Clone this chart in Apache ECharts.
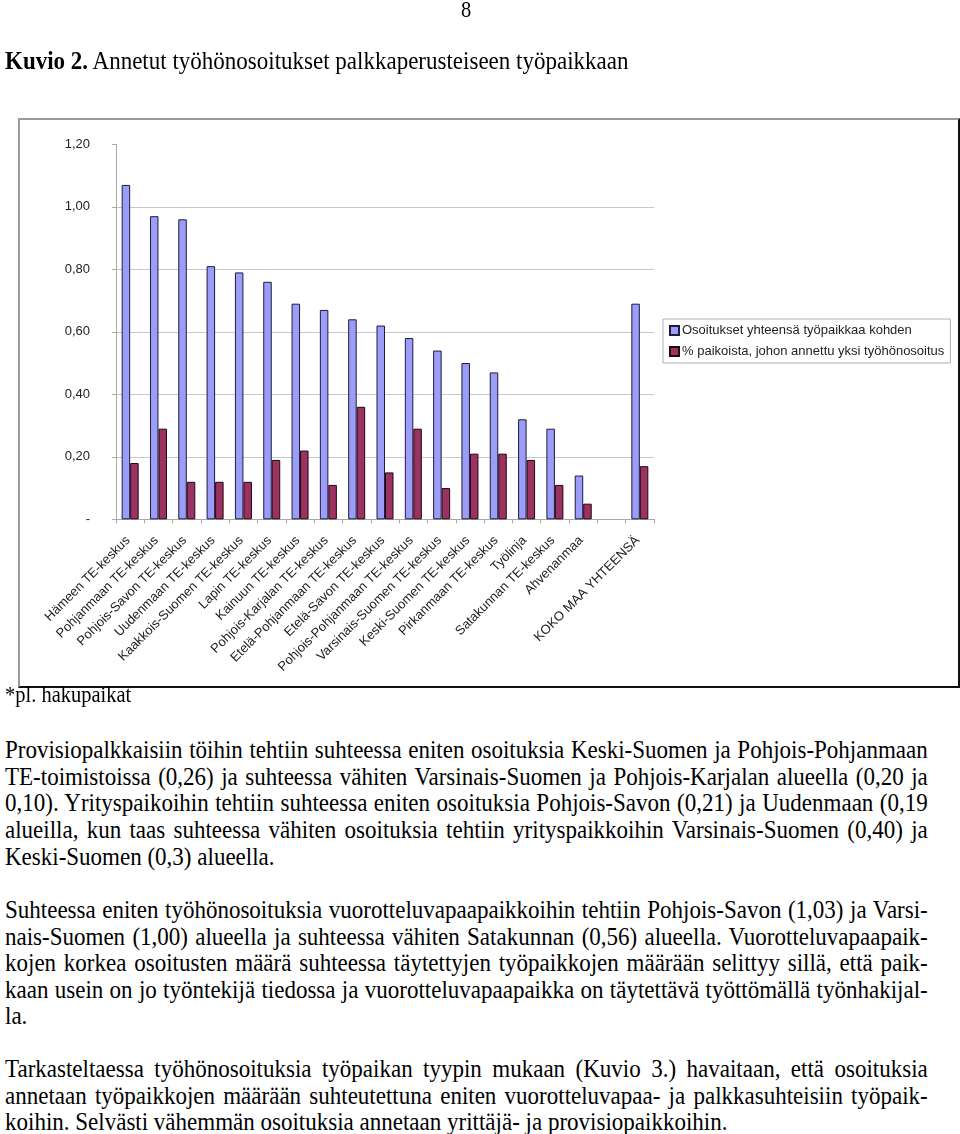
<!DOCTYPE html>
<html>
<head>
<meta charset="utf-8">
<script src="https://cdn.jsdelivr.net/npm/echarts@6/dist/echarts.min.js"></script>
<style>
  html, body { margin: 0; padding: 0; background: #fff; }
  body { width: 960px; height: 1134px; position: relative; overflow: hidden; font-family: "Liberation Serif", "Times New Roman", serif; color: #000; }
  #frame { position: absolute; left: 18px; top: 118px; width: 938px; height: 566px;
           border-top: 2px solid #9a9a9a; border-left: 2px solid #9a9a9a;
           border-right: 2px solid #111; border-bottom: 2px solid #111; }
  #chart { position: absolute; left: 0; top: 0; width: 960px; height: 700px; }
  .ln { position: absolute; left: 5px; height: 26px; line-height: 26px; font-size: 25px; white-space: nowrap;
        transform: scaleX(0.92); transform-origin: 0 50%; }
  .j { width: 1003px; text-align: justify; text-align-last: justify; }
  .small { font-size: 22.5px; transform: scaleX(0.91); }
</style>
</head>
<body>
<div id="frame"></div>
<div id="chart"></div>
<div id="text"></div>
<script>
// ---- data ----
var categories = [
  "Hämeen TE-keskus", "Pohjanmaan TE-keskus", "Pohjois-Savon TE-keskus", "Uudenmaan TE-keskus",
  "Kaakkois-Suomen TE-keskus", "Lapin TE-keskus", "Kainuun TE-keskus", "Pohjois-Karjalan TE-keskus",
  "Etelä-Pohjanmaan TE-keskus", "Etelä-Savon TE-keskus", "Pohjois-Pohjanmaan TE-keskus",
  "Varsinais-Suomen TE-keskus", "Keski-Suomen TE-keskus", "Pirkanmaan TE-keskus", "Työlinja",
  "Satakunnan TE-keskus", "Ahvenanmaa", "", "KOKO MAA YHTEENSÄ"
];
var seriesNames = ["Osoitukset yhteensä työpaikkaa kohden", "% paikoista, johon annettu yksi työhönosoitus"];
var osoituksetYhteensa = [1.07, 0.97, 0.96, 0.81, 0.79, 0.76, 0.69, 0.67, 0.64, 0.62, 0.58, 0.54, 0.50, 0.47, 0.32, 0.29, 0.14, null, 0.69];
var yksiOsoitus        = [0.18, 0.29, 0.12, 0.12, 0.12, 0.19, 0.22, 0.11, 0.36, 0.15, 0.29, 0.10, 0.21, 0.21, 0.19, 0.11, 0.05, null, 0.17];
var yTickLabels = { 0: "-", 0.2: "0,20", 0.4: "0,40", 0.6: "0,60", 0.8: "0,80", 1: "1,00", 1.2: "1,20" };

var chart = echarts.init(document.getElementById('chart'), null, { renderer: 'canvas' });
var axisFont = { fontFamily: "Liberation Sans, Arial, sans-serif", fontSize: 13, color: "#222" };
chart.setOption({
  backgroundColor: 'transparent',
  animation: false,
  grid: { left: 116, top: 144.3, width: 538, height: 375, containLabel: false },
  legend: {
    orient: 'vertical', left: 663, top: 319,
    data: seriesNames,
    backgroundColor: '#fff', borderColor: '#b0b0b0', borderWidth: 1,
    padding: [5, 6, 5, 6], itemWidth: 9, itemHeight: 9, itemGap: 8,
    icon: 'rect',
    textStyle: Object.assign({}, axisFont, { padding: [0, 0, 0, -2] })
  },
  xAxis: {
    type: 'category', data: categories, boundaryGap: true,
    axisLine: { lineStyle: { color: '#a8a8a8', width: 1 } },
    axisTick: { show: true, length: 4, lineStyle: { color: '#a8a8a8' } },
    axisLabel: Object.assign({}, axisFont, { rotate: 45, interval: 0, margin: 17, padding: [0, 3, 0, 0] })
  },
  yAxis: {
    type: 'value', min: 0, max: 1.2, interval: 0.2,
    axisLine: { show: true, lineStyle: { color: '#a8a8a8', width: 1 } },
    axisTick: { show: true, length: 4, lineStyle: { color: '#a8a8a8' } },
    splitLine: { show: true, lineStyle: { color: ['#c8c8c8', '#c8c8c8', '#c8c8c8', '#c8c8c8', '#c8c8c8', '#c8c8c8', 'rgba(0,0,0,0)'], width: 1 } },
    axisLabel: Object.assign({}, axisFont, { margin: 26, formatter: function (v) { var k = Math.round(v * 10) / 10; return yTickLabels[k] !== undefined ? yTickLabels[k] : ''; } })
  },
  series: [
    { name: seriesNames[0], type: 'bar', data: osoituksetYhteensa, barWidth: 8.5, barGap: '0%',
      itemStyle: { color: '#9c9cf9', borderColor: '#1c1c40', borderWidth: 1 } },
    { name: seriesNames[1], type: 'bar', data: yksiOsoitus, barWidth: 8.5, barGap: '0%',
      itemStyle: { color: '#9a3262', borderColor: '#24060f', borderWidth: 1 } }
  ]
});

// ---- page text ----
var lines = [
  // [centerY, html, class, extraStyle]
  [10, "8", "small", "left:461px;"],
  [61, "<b>Kuvio 2.</b> Annetut työhönosoitukset palkkaperusteiseen työpaikkaan", "", ""],
  [695, "*pl. hakupaikat", "small", ""],
  [750, "Provisiopalkkaisiin töihin tehtiin suhteessa eniten osoituksia Keski-Suomen ja Pohjois-Pohjanmaan", "j", ""],
  [777, "TE-toimistoissa (0,26) ja suhteessa vähiten Varsinais-Suomen ja Pohjois-Karjalan alueella (0,20 ja", "j", ""],
  [803, "0,10). Yrityspaikoihin tehtiin suhteessa eniten osoituksia Pohjois-Savon (0,21) ja Uudenmaan (0,19", "j", ""],
  [830, "alueilla, kun taas suhteessa vähiten osoituksia tehtiin yrityspaikkoihin Varsinais-Suomen (0,40) ja", "j", ""],
  [857, "Keski-Suomen (0,3) alueella.", "", ""],
  [910, "Suhteessa eniten työhönosoituksia vuorotteluvapaapaikkoihin tehtiin Pohjois-Savon (1,03) ja Varsi-", "j", ""],
  [937, "nais-Suomen (1,00) alueella ja suhteessa vähiten Satakunnan (0,56) alueella. Vuorotteluvapaapaik-", "j", ""],
  [963, "kojen korkea osoitusten määrä suhteessa täytettyjen työpaikkojen määrään selittyy sillä, että paik-", "j", ""],
  [990, "kaan usein on jo työntekijä tiedossa ja vuorotteluvapaapaikka on täytettävä työttömällä työnhakijal-", "j", ""],
  [1016, "la.", "", ""],
  [1069, "Tarkasteltaessa työhönosoituksia työpaikan tyypin mukaan (Kuvio 3.) havaitaan, että osoituksia", "j", ""],
  [1096, "annetaan työpaikkojen määrään suhteutettuna eniten vuorotteluvapaa- ja palkkasuhteisiin työpaik-", "j", ""],
  [1122, "koihin. Selvästi vähemmän osoituksia annetaan yrittäjä- ja provisiopaikkoihin.", "", ""]
];
var host = document.getElementById('text');
lines.forEach(function (l) {
  var d = document.createElement('div');
  d.className = 'ln' + (l[2] ? ' ' + l[2] : '');
  d.style.cssText = 'top:' + (l[0] - 13) + 'px;' + l[3];
  d.innerHTML = l[1];
  host.appendChild(d);
});
</script>
</body>
</html>
